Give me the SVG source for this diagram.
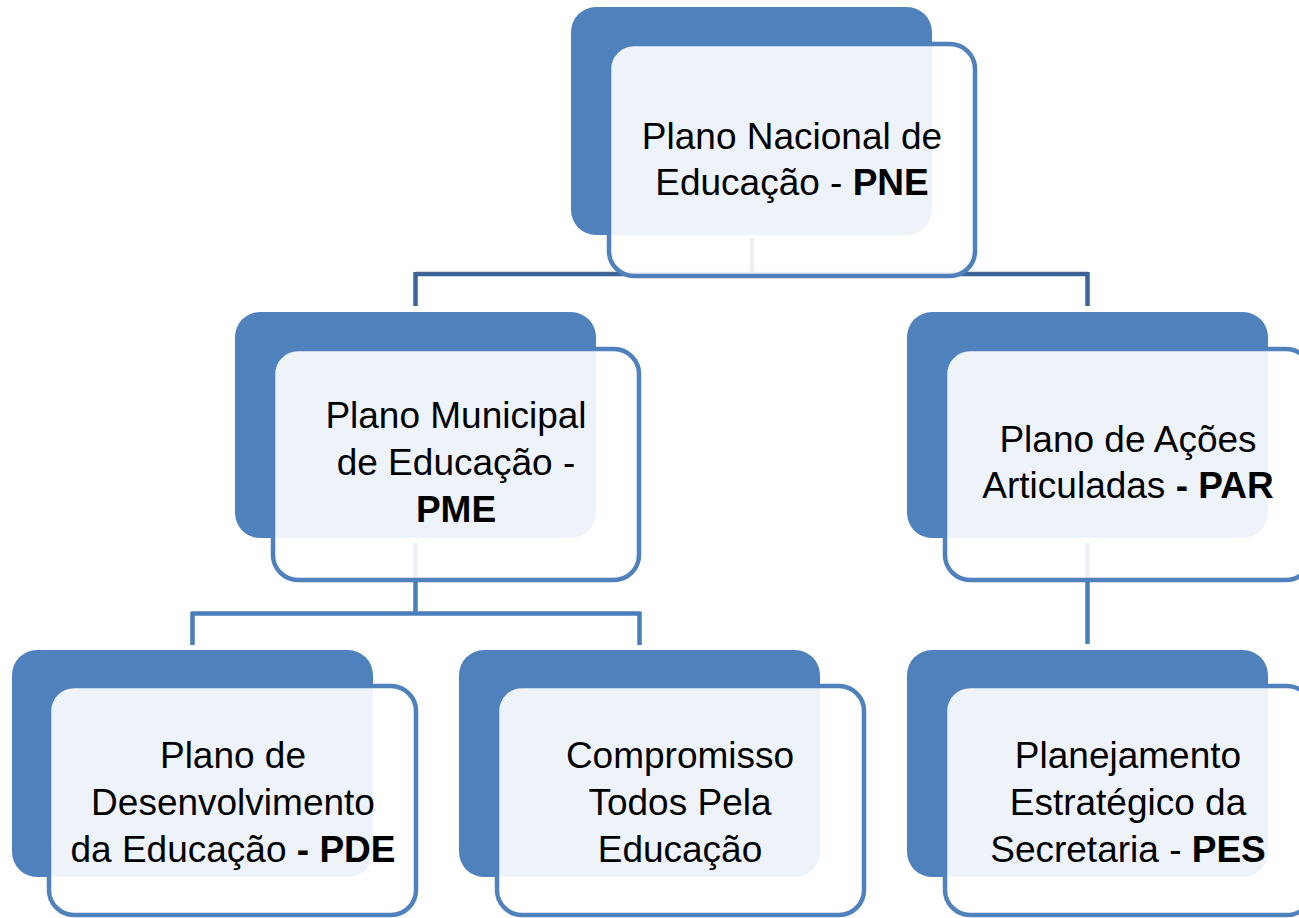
<svg xmlns="http://www.w3.org/2000/svg" width="1299" height="918" viewBox="0 0 1299 918">
<style>
.dark{fill:#4F81BD;}
.light{fill:#FFFFFF;fill-opacity:0.9;stroke:#4F81BD;stroke-width:4.5;}
.c1{fill:none;stroke:#3C6494;stroke-width:4.5;}
.c2{fill:none;stroke:#4A7EBB;stroke-width:4.5;}
text{font-family:"Liberation Sans",Arial,sans-serif;font-size:37px;fill:#000;text-anchor:middle;}
.b{font-weight:bold;}
</style>
<rect width="1299" height="918" fill="#FFFFFF"/>
<g id="connectors">
<path class="c1" d="M752,238 V274 M415.5,274 H1087.5 M415.5,272 V306 M1087.5,272 V306"/>
<path class="c2" d="M415.5,543 V613.5 M192.5,613.5 H639.5 M192.5,611.5 V645 M639.5,611.5 V645"/>
<path class="c2" d="M1087.5,543 V644"/>
</g>
<g id="node-pne">
<rect class="dark" x="571" y="7" width="361" height="228" rx="25"/>
<rect class="light" x="609" y="44" width="366" height="232" rx="25"/>
<text x="792" y="149">Plano Nacional de</text>
<text x="792" y="195">Educação - <tspan class="b">PNE</tspan></text>
</g>
<g id="node-pme">
<rect class="dark" x="235" y="312" width="361" height="226" rx="25"/>
<rect class="light" x="273" y="349" width="366" height="231" rx="25"/>
<text x="456" y="428">Plano Municipal</text>
<text x="456" y="475">de Educação -</text>
<text x="456" y="522" class="b">PME</text>
</g>
<g id="node-par">
<rect class="dark" x="907" y="312" width="361" height="226" rx="25"/>
<rect class="light" x="945" y="349" width="366" height="231" rx="25"/>
<text x="1128" y="452">Plano de Ações</text>
<text x="1128" y="498">Articuladas <tspan class="b">- PAR</tspan></text>
</g>
<g id="node-pde">
<rect class="dark" x="12" y="650" width="361" height="227" rx="25"/>
<rect class="light" x="49" y="686" width="367" height="229" rx="25"/>
<text x="233" y="768">Plano de</text>
<text x="233" y="815">Desenvolvimento</text>
<text x="233" y="862">da Educação <tspan class="b">- PDE</tspan></text>
</g>
<g id="node-ctpe">
<rect class="dark" x="459" y="650" width="361" height="227" rx="25"/>
<rect class="light" x="497" y="686" width="367" height="229" rx="25"/>
<text x="680" y="768">Compromisso</text>
<text x="680" y="815">Todos Pela</text>
<text x="680" y="862">Educação</text>
</g>
<g id="node-pes">
<rect class="dark" x="907" y="650" width="361" height="227" rx="25"/>
<rect class="light" x="945" y="686" width="367" height="229" rx="25"/>
<text x="1128" y="768">Planejamento</text>
<text x="1128" y="815">Estratégico da</text>
<text x="1128" y="862">Secretaria - <tspan class="b">PES</tspan></text>
</g>
</svg>
